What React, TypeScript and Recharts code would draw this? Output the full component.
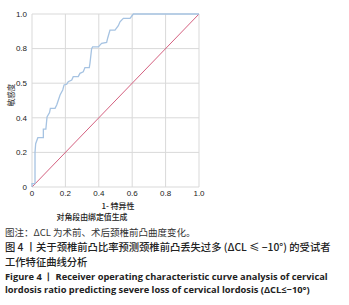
import React from 'react';
import { LineChart, Line, XAxis, YAxis, CartesianGrid } from 'recharts';

// ROC curve
const rocFpr = [0, 0, 0.018, 0.018, 0.022, 0.035, 0.068, 0.068, 0.083, 0.09, 0.105, 0.11, 0.138, 0.148, 0.158, 0.168, 0.184, 0.192, 0.208, 0.217, 0.238, 0.247, 0.277, 0.287, 0.307, 0.317, 0.343, 0.347, 0.357, 0.363, 0.397, 0.417, 0.447, 0.453, 0.467, 0.497, 0.517, 0.527, 0.547, 0.587, 0.607, 1.0];
const rocTpr = [0, 0.02, 0.02, 0.2, 0.25, 0.285, 0.285, 0.335, 0.335, 0.405, 0.43, 0.455, 0.455, 0.474, 0.503, 0.532, 0.561, 0.59, 0.594, 0.609, 0.618, 0.638, 0.638, 0.657, 0.666, 0.69, 0.69, 0.715, 0.8, 0.81, 0.81, 0.83, 0.836, 0.86, 0.907, 0.907, 0.932, 0.955, 0.975, 0.975, 1.0, 1.0];

// reference (diagonal) line
const refX = [0, 1];
const refY = [0, 1];

const xTicks = [0, 0.2, 0.4, 0.6, 0.8, 1.0];
const xTickLabels = ['0', '0.2', '0.4', '0.6', '0.8', '1.0'];
const yTicks = [0, 0.2, 0.4, 0.6, 0.8, 1.0];
const yTickLabels = ['0', '0.2', '0.4', '0.5', '0.8', '1.0'];

const rocData = rocFpr.map((x, i) => ({ x, y: rocTpr[i] }));
const refData = refX.map((x, i) => ({ x, y: refY[i] }));

const tickStyle = { fill: '#222', fontSize: 8, fontFamily: 'Liberation Sans, Arial, sans-serif' };
const cjk = '"Noto Sans CJK SC", sans-serif';

const App: React.FC = () => {
    return (
        <div style={{ position: 'absolute', left: 0, top: 0, width: 349, height: 305, background: '#fff', overflow: 'hidden' }}>
            <LineChart width={349} height={230} margin={{ top: 14, right: 150, left: 0, bottom: 13 }}>
                <CartesianGrid stroke="#d9d9d9" strokeWidth={1} />
                <XAxis
                    type="number"
                    dataKey="x"
                    domain={[0, 1]}
                    ticks={xTicks}
                    tickFormatter={(v: number) => xTickLabels[xTicks.indexOf(v)] ?? String(v)}
                    tick={tickStyle}
                    tickSize={0}
                    tickMargin={3}
                    axisLine={false}
                    height={30}
                />
                <YAxis
                    type="number"
                    dataKey="y"
                    domain={[0, 1]}
                    ticks={yTicks}
                    tickFormatter={(v: number) => yTickLabels[yTicks.indexOf(v)] ?? String(v)}
                    tick={tickStyle}
                    tickSize={0}
                    tickMargin={5}
                    axisLine={false}
                    width={32}
                />
                <Line data={refData} dataKey="y" type="linear" stroke="#d4607f" strokeWidth={1} dot={false} isAnimationActive={false} />
                <Line data={rocData} dataKey="y" type="linear" stroke="#a6c3e2" strokeWidth={1.3} dot={false} isAnimationActive={false} />
            </LineChart>

            <div style={{ position: 'absolute', left: 6, top: 95, transform: 'translate(-50%, -50%) rotate(-90deg)', transformOrigin: 'center', fontFamily: cjk, fontSize: 7.5, color: '#222', whiteSpace: 'nowrap', marginLeft: 4 }}>敏感度</div>
            <div style={{ position: 'absolute', left: 118, top: 205, transform: 'translate(-50%, -50%)', fontFamily: cjk, fontSize: 8, fontWeight: 500, color: '#222', whiteSpace: 'nowrap', lineHeight: '9px' }}>1- 特异性</div>
            <div style={{ position: 'absolute', left: 92, top: 216, transform: 'translate(-50%, -50%)', fontFamily: cjk, fontSize: 7.9, fontWeight: 500, color: '#222', whiteSpace: 'nowrap', lineHeight: '9px' }}>对角段由绑定值生成</div>

            <div style={{ position: 'absolute', left: 5, top: 226, fontFamily: cjk, fontSize: 9.5, color: '#333', whiteSpace: 'nowrap', lineHeight: '12px' }}>图注：ΔCL 为术前、术后颈椎前凸曲度变化。</div>
            <div style={{ position: 'absolute', left: 5, top: 241, fontFamily: cjk, fontSize: 10.3, fontWeight: 500, color: '#222', whiteSpace: 'nowrap', lineHeight: '12px' }}>图 4 丨关于颈椎前凸比率预测颈椎前凸丢失过多 (ΔCL ≤ −10°) 的受试者</div>
            <div style={{ position: 'absolute', left: 5, top: 256, fontFamily: cjk, fontSize: 10.3, fontWeight: 500, color: '#222', whiteSpace: 'nowrap', lineHeight: '12px' }}>工作特征曲线分析</div>
            <div style={{ position: 'absolute', left: 5, top: 271, fontFamily: '"Open Sans", sans-serif', fontSize: 9.3, fontWeight: 700, color: '#222', whiteSpace: 'nowrap', lineHeight: '12px' }}>Figure 4 丨 Receiver operating characteristic curve analysis of cervical</div>
            <div style={{ position: 'absolute', left: 5, top: 284, fontFamily: '"Open Sans", sans-serif', fontSize: 9.3, fontWeight: 700, color: '#222', whiteSpace: 'nowrap', lineHeight: '12px' }}>lordosis ratio predicting severe loss of cervical lordosis (ΔCL≤−10°)</div>
        </div>
    );
};

export default App;
